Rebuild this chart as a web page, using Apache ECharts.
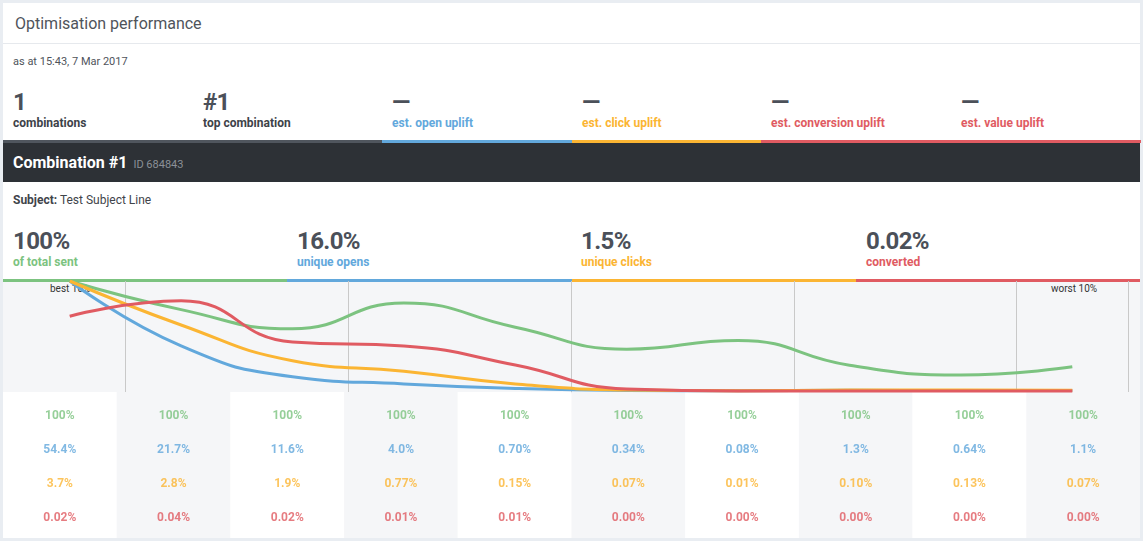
<!DOCTYPE html>
<html>
<head>
<meta charset="utf-8">
<script src="https://cdn.jsdelivr.net/npm/echarts@6/dist/echarts.min.js"></script>
<style>
  html, body { margin: 0; padding: 0; }
  body { width: 1143px; height: 541px; background: #e9edf2; position: relative; overflow: hidden; font-family: Roboto, "Noto Sans", sans-serif; }
  .abs { position: absolute; white-space: nowrap; }
  #card { left: 3px; top: 3px; width: 1137px; height: 535px; background: #fff; }
  .big { font-size: 24px; line-height: 28px; font-weight: 700; color: #4b5059; letter-spacing: -0.6px; }
  .lbl { font-size: 12px; line-height: 14px; font-weight: 700; }
  #chart { position: absolute; left: 0; top: 0; width: 1143px; height: 541px; z-index: 5; }
</style>
</head>
<body>
<div id="card" class="abs"></div>
<div class="abs" style="left:15px;top:14px;font-size:16px;line-height:20px;color:#4f545b;">Optimisation performance</div>
<div class="abs" style="left:3px;top:43px;width:1137px;height:1px;background:#e6e9ed;"></div>
<div class="abs" style="left:13px;top:54.5px;font-size:11px;line-height:14px;color:#4f545b;">as at 15:43, 7 Mar 2017</div>

<div id="stats"></div>
<div id="metrics"></div>

<div class="abs" style="left:3px;top:143px;width:1137px;height:39px;background:#2d3136;"></div>
<div class="abs" style="left:13px;top:153px;font-size:16px;line-height:20px;color:#fff;font-weight:700;">Combination #1<span style="font-size:11px;font-weight:400;color:#8b9097;margin-left:6px;">ID 684843</span></div>
<div class="abs" style="left:13px;top:192px;font-size:12px;line-height:16px;color:#3f444a;"><b>Subject:</b> Test Subject Line</div>

<div class="abs" style="left:3px;top:282px;width:1137px;height:110px;background:#f5f6f8;"></div>
<div class="abs" style="left:50px;top:283px;font-size:10px;line-height:12px;color:#333;">best 10%</div>
<div class="abs" style="left:1051px;top:283px;font-size:10px;line-height:12px;color:#333;">worst 10%</div>

<div id="chart"></div>

<script>
// ---- data ----
const deciles = ['1', '2', '3', '4', '5', '6', '7', '8', '9', '10'];
const tableRows = ['of total sent', 'unique opens', 'unique clicks', 'converted'];
const totalSent    = ['100%', '100%', '100%', '100%', '100%', '100%', '100%', '100%', '100%', '100%'];
const uniqueOpens  = ['54.4%', '21.7%', '11.6%', '4.0%', '0.70%', '0.34%', '0.08%', '1.3%', '0.64%', '1.1%'];
const uniqueClicks = ['3.7%', '2.8%', '1.9%', '0.77%', '0.15%', '0.07%', '0.01%', '0.10%', '0.13%', '0.07%'];
const converted    = ['0.02%', '0.04%', '0.02%', '0.01%', '0.01%', '0.00%', '0.00%', '0.00%', '0.00%', '0.00%'];
// curve heights (relative)
const sentCurve    = [1.0, 0.74, 0.565, 0.80, 0.58, 0.38, 0.46, 0.235, 0.145, 0.22];
const opensCurve   = [1.0, 0.41, 0.13, 0.064, 0.023, 0.005, 0.002, 0.006, 0.004, 0.005];
const clicksCurve  = [1.0, 0.60, 0.275, 0.18, 0.064, 0.01, 0.003, 0.008, 0.01, 0.006];
const convCurve    = [0.68, 0.82, 0.445, 0.41, 0.236, 0.018, 0, 0, 0, 0];
// header stats
const statValues = ['1', '#1', '—', '—', '—', '—'];
const statLabels = ['combinations', 'top combination', 'est. open uplift', 'est. click uplift', 'est. conversion uplift', 'est. value uplift'];
const metricValues = ['100%', '16.0%', '1.5%', '0.02%'];
const metricLabels = ['of total sent', 'unique opens', 'unique clicks', 'converted'];

const GREEN = '#7cc380', BLUE = '#62a8dc', ORANGE = '#fbb533', RED = '#e05b62', DARK = '#3d4248', BAR = '#50565e';

// ---- header blocks (HTML text) ----
(function () {
  const statColors = [DARK, DARK, BLUE, ORANGE, RED, RED];
  const statBars = [BAR, BAR, BLUE, ORANGE, RED, RED];
  const s = document.getElementById('stats');
  const sx = [13, 203, 392, 582, 771, 961];
  const bx = [3, 192.5, 382, 572, 761, 950.5, 1140];
  let h = '';
  for (let i = 0; i < statValues.length; i++) {
    h += `<div class="abs big" style="left:${sx[i]}px;top:88px;">${statValues[i]}</div>`;
    h += `<div class="abs lbl" style="left:${sx[i]}px;top:116px;color:${statColors[i]};">${statLabels[i]}</div>`;
    h += `<div class="abs" style="left:${bx[i]}px;top:140px;width:${bx[i+1]-bx[i]+0.5}px;height:3px;background:${statBars[i]};"></div>`;
  }
  s.innerHTML = h;
  const m = document.getElementById('metrics');
  const mColors = [GREEN, BLUE, ORANGE, RED];
  const mx = [13, 297, 581, 866];
  const mb = [3, 287, 572, 856, 1140];
  h = '';
  for (let i = 0; i < metricValues.length; i++) {
    h += `<div class="abs big" style="left:${mx[i]}px;top:227px;">${metricValues[i]}</div>`;
    h += `<div class="abs lbl" style="left:${mx[i]}px;top:255px;color:${mColors[i]};">${metricLabels[i]}</div>`;
    h += `<div class="abs" style="left:${mb[i]}px;top:279px;width:${mb[i+1]-mb[i]}px;height:3px;background:${mColors[i]};"></div>`;
  }
  m.innerHTML = h;
})();

// ---- chart ----
const chart = echarts.init(document.getElementById('chart'), null, { renderer: 'canvas' });
const rowSets = [totalSent, uniqueOpens, uniqueClicks, converted];
const rowColors = [GREEN, BLUE, ORANGE, RED];
const curves = [sentCurve, opensCurve, clicksCurve, convCurve];

const series = [];
curves.forEach(function (c, k) {
  series.push({
    type: 'line', xAxisIndex: 0, yAxisIndex: 0, data: c, smooth: true,
    showSymbol: false, symbol: 'none', lineStyle: { width: 3, color: rowColors[k] },
    itemStyle: { color: rowColors[k] }, z: 2 + k, silent: true
  });
});
series.push({ type: 'line', xAxisIndex: 1, yAxisIndex: 1, data: [], silent: true });
rowSets.forEach(function (arr, r) {
  series.push({
    type: 'scatter', xAxisIndex: 2, yAxisIndex: 2, symbolSize: 0, silent: true,
    data: arr.map(function (txt, i) { return { name: txt, value: [deciles[i], tableRows[r]] }; }),
    label: { show: true, position: 'inside', formatter: '{b}', color: rowColors[r], fontSize: 12, fontWeight: 'bold', fontFamily: 'Roboto' }
  });
});

chart.setOption({
  animation: false,
  backgroundColor: 'transparent',
  textStyle: { fontFamily: 'Roboto' },
  grid: [
    { left: 14, width: 1114, top: 281, height: 112.2 },
    { left: 3, width: 1137, top: 392, height: 146 },
    { left: 3, width: 1137, top: 398.5, height: 137 }
  ],
  xAxis: [
    { gridIndex: 0, type: 'category', data: deciles, boundaryGap: true,
      axisLine: { show: false }, axisTick: { show: false }, axisLabel: { show: false },
      splitLine: { show: true, interval: function (i) { return i % 2 === 1; }, lineStyle: { color: '#c9c9c9', width: 1 } } },
    { gridIndex: 1, type: 'category', data: deciles, boundaryGap: true,
      axisLine: { show: false }, axisTick: { show: false }, axisLabel: { show: false }, splitLine: { show: false },
      splitArea: { show: true, interval: 0, areaStyle: { color: ['#ffffff', '#f5f6f8'] } } },
    { gridIndex: 2, type: 'category', data: deciles, boundaryGap: true,
      axisLine: { show: false }, axisTick: { show: false }, axisLabel: { show: false }, splitLine: { show: false } }
  ],
  yAxis: [
    { gridIndex: 0, type: 'value', min: -0.02, max: 1, show: false, splitLine: { show: false } },
    { gridIndex: 1, type: 'value', min: 0, max: 1, show: false, splitLine: { show: false } },
    { gridIndex: 2, type: 'category', data: tableRows, inverse: true, show: false }
  ],
  series: series
});
</script>
</body>
</html>
